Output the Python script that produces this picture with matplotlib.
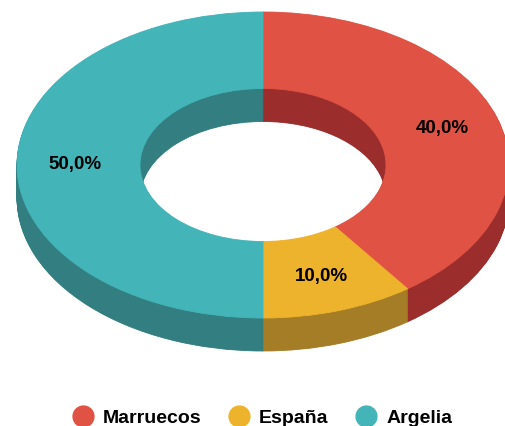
import matplotlib
matplotlib.use("Agg")
import matplotlib.pyplot as plt
from matplotlib.lines import Line2D

# data
labels = ["Marruecos", "España", "Argelia"]
values = [40, 10, 50]
colors = ["#E05243", "#EEB32C", "#43B5B9"]
side_colors = ["#9B2D2D", "#A47D26", "#327E80"]

# layout (pixels)
W, H = 505, 426
cx, cy = 263, 165      # centre of top face
rx, ry = 246, 153      # outer radii of top ellipse
depth = 33 / ry        # thickness of the ring in data units
n_layers = 40


def pct(p):
    return f"{p:.1f}%".replace(".", ",")


fig = plt.figure(figsize=(W / 100, H / 100), dpi=100)
ax = fig.add_axes([0, 0, 1, 1])

# side walls: stack darker rings below the top face
for k in range(n_layers, 0, -1):
    off = depth * k / n_layers
    wedges, _ = ax.pie(values, colors=side_colors, startangle=90, counterclock=False,
                       center=(0, -off), wedgeprops=dict(width=0.5, linewidth=0.6))
    for w in wedges:
        w.set_edgecolor(w.get_facecolor())

# top face
wedges, texts, autotexts = ax.pie(values, colors=colors, startangle=90, counterclock=False,
                                  center=(0, 0), autopct=pct, pctdistance=0.765,
                                  wedgeprops=dict(width=0.5, linewidth=0.6),
                                  textprops=dict(fontsize=13.5, fontweight="bold",
                                                 color="black", family="Liberation Sans"))
for w in wedges:
    w.set_edgecolor(w.get_facecolor())

ax.set_aspect("auto")
ax.set_xlim(-cx / rx, (W - cx) / rx)
ax.set_ylim(-(H - cy) / ry, cy / ry)
ax.axis("off")

handles = [Line2D([], [], marker="o", linestyle="", markersize=15,
                  markerfacecolor=c, markeredgecolor=c) for c in colors]
fig.legend(handles, labels, loc="center", bbox_to_anchor=(0.52, 0.019), ncol=3,
           frameon=False, prop=dict(family="Liberation Sans", weight="bold", size=14),
           handletextpad=0.55, columnspacing=1.4, handlelength=1.0)

fig.savefig("out.png", dpi=100, facecolor="white")
